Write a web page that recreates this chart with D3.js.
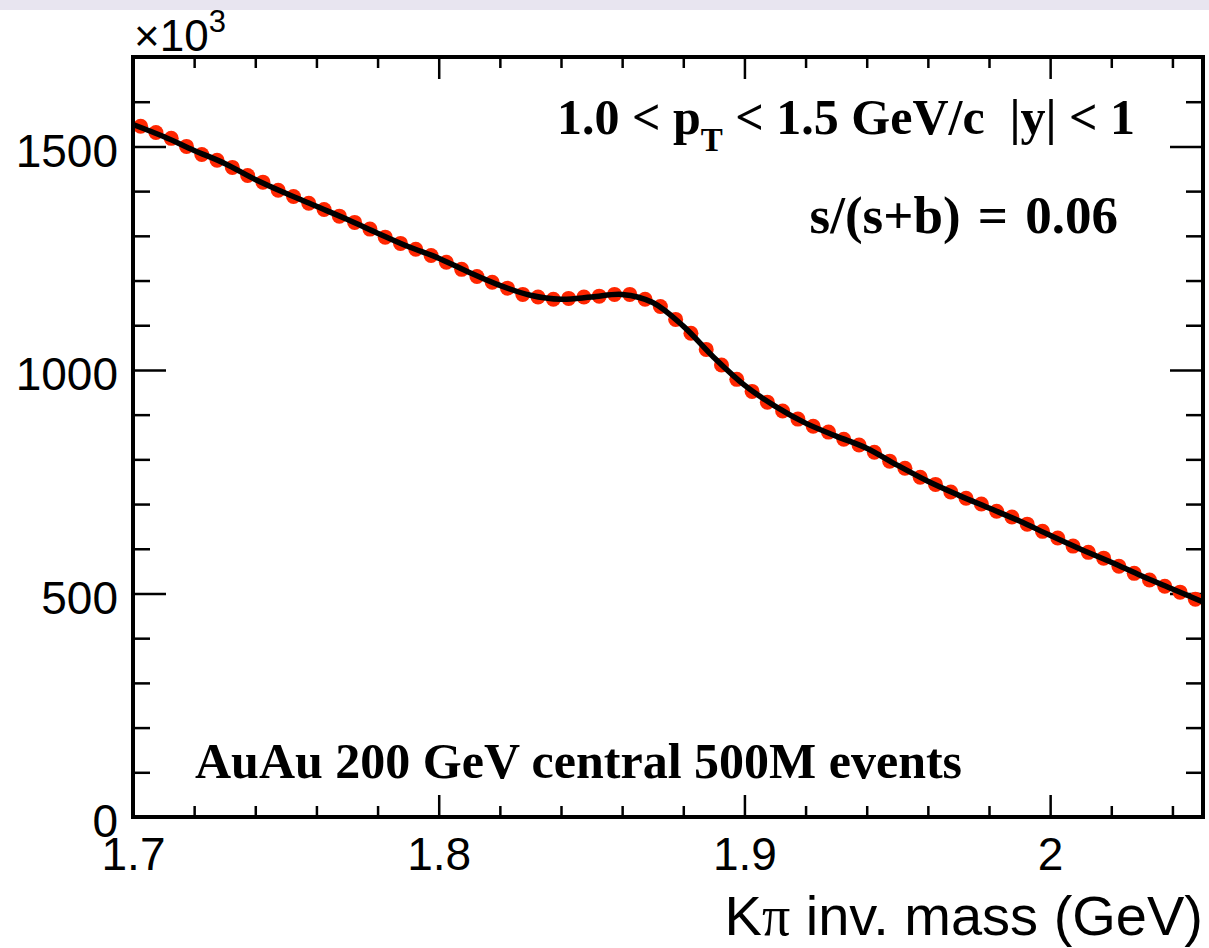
<!DOCTYPE html>
<html>
<head>
<meta charset="utf-8">
<script src="https://cdn.jsdelivr.net/npm/d3@7"></script>
<style>
body { margin: 0; background: #fff; }
svg { display: block; }
.lab { font-family: "Liberation Sans", Arial, sans-serif; fill: #000; }
.ann { font-family: "Liberation Serif", "Times New Roman", serif; font-weight: bold; fill: #000; white-space: pre; }
</style>
</head>
<body>
<svg width="1209" height="948"></svg>
<script>
'use strict';
// histogram binning (GeV) and counts per bin, in units of 10^3
const massLo = 1.7, massHi = 2.05, binWidth = 0.005
const counts = [
	1545, 1531, 1518, 1500, 1482, 1469, 1453, 1435, 1420, 1402,
	1388, 1373, 1359, 1344, 1330, 1315, 1297, 1283, 1270, 1256,
	1241, 1225, 1209, 1196, 1183, 1169, 1163, 1158, 1160, 1163,
	1165, 1169, 1169, 1158, 1142, 1113, 1082, 1046, 1011, 979,
	952, 928, 908, 890, 874, 861, 845, 832, 816, 796,
	780, 760, 744, 727, 713, 700, 684, 671, 655, 639,
	624, 606, 592, 579, 561, 545, 530, 516, 503, 487]

// fit curve sampled every 10 MeV
const fitMass = [
	1.70, 1.71, 1.72, 1.73, 1.74, 1.75, 1.76, 1.77, 1.78, 1.79,
	1.80, 1.81, 1.82, 1.83, 1.84, 1.85, 1.86, 1.87, 1.88, 1.89,
	1.90, 1.91, 1.92, 1.93, 1.94, 1.95, 1.96, 1.97, 1.98, 1.99,
	2.00, 2.01, 2.02, 2.03, 2.04, 2.05]
const fitCounts = [
	1549, 1522, 1491, 1462, 1426, 1395, 1366, 1337, 1306, 1276,
	1250, 1218, 1189, 1167, 1158, 1163, 1169, 1151, 1098, 1028,
	966, 919, 881, 852, 825, 787, 751, 720, 691, 662,
	630, 599, 570, 539, 510, 481]

const xMajor = [1.7, 1.8, 1.9, 2.0]
const xMajorLabels = ["1.7", "1.8", "1.9", "2"]
const yMajor = [0, 500, 1000, 1500]
const yMajorLabels = ["0", "500", "1000", "1500"]

let eSvg = d3.select("svg")
// frame geometry
let fL = 133, fR = 1203, fT = 57, fB = 817

let x = d3.scaleLinear().domain([massLo, massHi]).range([fL, fR])
let y = d3.scaleLinear().domain([0, 1700]).range([fB, fT])

// lavender strip at the very top
eSvg.append("rect").attr("x", 0).attr("y", 0).attr("width", 1209).attr("height", 10)
	.attr("fill", "#e8e5f0")

// minor tick positions (not data)
let xMinor = d3.range(0, 18).map(i => massLo + i * 0.02).filter(v => !xMajor.some(m => Math.abs(m - v) < 1e-6))
let yMinor = d3.range(1, 18).map(i => i * 100).filter(v => v % 500 !== 0)

function styleAxis(g) {
	g.select(".domain").remove()
	g.selectAll("line").attr("stroke", "#000").attr("stroke-width", 2.5)}

// bottom / top ticks
eSvg.append("g").attr("transform", `translate(0,${fB})`)
	.call(d3.axisBottom(x).tickValues(xMajor).tickSize(-22).tickPadding(20)
		.tickFormat((d, i) => xMajorLabels[i]))
	.call(styleAxis)
	.call(g => g.selectAll("text").attr("class", "lab").attr("font-size", 46).attr("font-family", null))
eSvg.append("g").attr("transform", `translate(0,${fB})`)
	.call(d3.axisBottom(x).tickValues(xMinor).tickSize(-11).tickFormat(""))
	.call(styleAxis)
eSvg.append("g").attr("transform", `translate(0,${fT})`)
	.call(d3.axisTop(x).tickValues(xMajor).tickSize(-22).tickFormat(""))
	.call(styleAxis)
eSvg.append("g").attr("transform", `translate(0,${fT})`)
	.call(d3.axisTop(x).tickValues(xMinor).tickSize(-11).tickFormat(""))
	.call(styleAxis)

// left / right ticks
eSvg.append("g").attr("transform", `translate(${fL},0)`)
	.call(d3.axisLeft(y).tickValues(yMajor).tickSize(-33).tickPadding(15)
		.tickFormat((d, i) => yMajorLabels[i]))
	.call(styleAxis)
	.call(g => g.selectAll("text").attr("class", "lab").attr("font-size", 46).attr("font-family", null)
		.attr("dy", "0.43em"))
eSvg.append("g").attr("transform", `translate(${fL},0)`)
	.call(d3.axisLeft(y).tickValues(yMinor).tickSize(-17).tickFormat(""))
	.call(styleAxis)
eSvg.append("g").attr("transform", `translate(${fR},0)`)
	.call(d3.axisRight(y).tickValues(yMajor).tickSize(-33).tickFormat(""))
	.call(styleAxis)
eSvg.append("g").attr("transform", `translate(${fR},0)`)
	.call(d3.axisRight(y).tickValues(yMinor).tickSize(-17).tickFormat(""))
	.call(styleAxis)

// data markers
eSvg.append("g")
	.selectAll("circle")
	.data(counts)
	.enter()
	.append("circle")
	.attr("cx", (d, i) => x(massLo + binWidth * (i + 0.5)))
	.attr("cy", d => y(d))
	.attr("r", 7.5)
	.attr("fill", "#ff2600")

// fit on top
let fitLine = d3.line()
	.x((d, i) => x(fitMass[i]))
	.y(d => y(d))
	.curve(d3.curveCatmullRom)
eSvg.append("path")
	.datum(fitCounts)
	.attr("d", fitLine)
	.attr("fill", "none")
	.attr("stroke", "#000")
	.attr("stroke-width", 5.5)
	.attr("stroke-linejoin", "round")

// frame
eSvg.append("rect")
	.attr("x", fL).attr("y", fT)
	.attr("width", fR - fL).attr("height", fB - fT)
	.attr("fill", "none").attr("stroke", "#000").attr("stroke-width", 4)

// exponent
let eExp = eSvg.append("text").attr("class", "lab").attr("x", 134).attr("y", 51).attr("font-size", 44)
eExp.append("tspan").text("\u00d710")
eExp.append("tspan").attr("font-size", 31).attr("dy", -19).text("3")

// axis title
let eTitle = eSvg.append("text").attr("class", "lab")
	.attr("x", fR).attr("y", 935).attr("text-anchor", "end").attr("font-size", 56)
eTitle.append("tspan").text("K")
eTitle.append("tspan").attr("font-family", "'Liberation Serif', serif").text("\u03c0")
eTitle.append("tspan").text(" inv. mass (GeV)")

// annotations
let eKin = eSvg.append("text").attr("class", "ann").attr("x", 557).attr("y", 134).attr("font-size", 50)
eKin.append("tspan").text("1.0 < p")
eKin.append("tspan").attr("font-size", 33).attr("dy", 17).text("T")
eKin.append("tspan").attr("dy", -17).text(" < 1.5 GeV/c  |y| < 1")

eSvg.append("text").attr("class", "ann").attr("x", 1118).attr("y", 233)
	.attr("text-anchor", "end").attr("font-size", 53).attr("word-spacing", 4)
	.text("s/(s+b) = 0.06")

eSvg.append("text").attr("class", "ann").attr("x", 195).attr("y", 778).attr("font-size", 50)
	.text("AuAu 200 GeV central 500M events")
</script>
</body>
</html>
